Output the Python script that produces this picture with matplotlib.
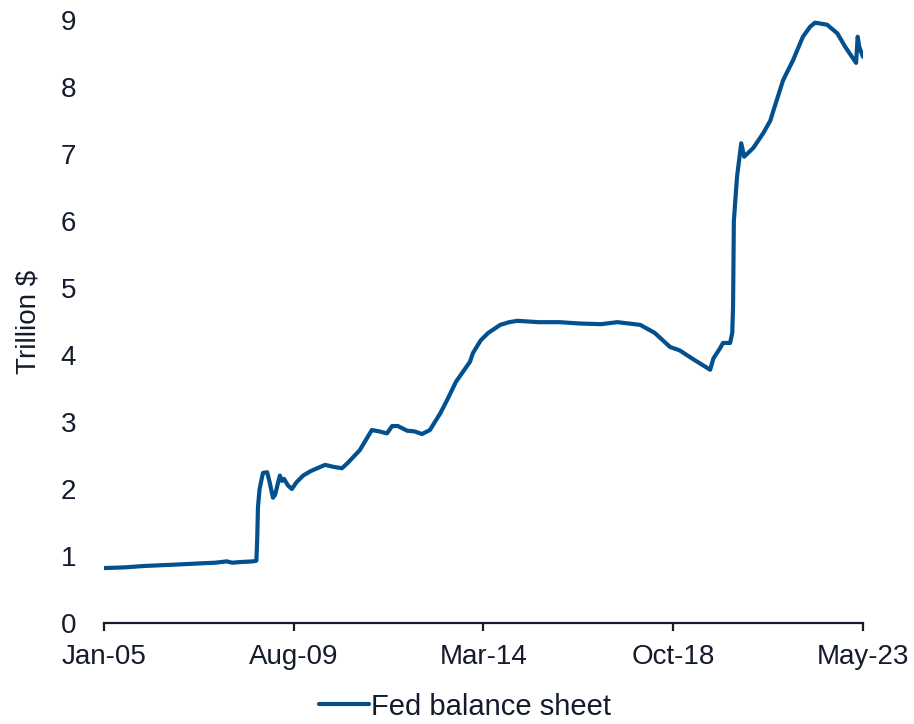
import matplotlib
matplotlib.use("Agg")
import matplotlib.pyplot as plt
import pandas as pd

plt.rcParams["font.family"] = ["Liberation Sans", "DejaVu Sans"]

# Fed balance sheet, total assets (trillion $)
dates = [
    "2005-01-05", "2005-07-01", "2005-12-10", "2006-04-20", "2006-09-01",
    "2007-01-03", "2007-04-27", "2007-09-12", "2007-12-19", "2008-02-06",
    "2008-04-20", "2008-08-08", "2008-09-06", "2008-09-13", "2008-09-20",
    "2008-10-04", "2008-11-03", "2008-12-10", "2009-01-01", "2009-01-30",
    "2009-02-17", "2009-04-01", "2009-04-20", "2009-05-08", "2009-06-13",
    "2009-07-16", "2009-08-25", "2009-10-23", "2010-01-01", "2010-05-05",
    "2010-07-20", "2010-10-01", "2010-11-21", "2011-03-07", "2011-06-21",
    "2011-08-25", "2011-11-02", "2011-12-17", "2012-02-06", "2012-04-27",
    "2012-07-01", "2012-09-05", "2012-11-14", "2013-02-14", "2013-04-16",
    "2013-07-02", "2013-11-03", "2013-11-29", "2014-02-06", "2014-04-13",
    "2014-07-28", "2014-10-15", "2014-12-25", "2015-07-01", "2016-01-01",
    "2016-07-01", "2017-01-01", "2017-05-26", "2017-12-13", "2018-04-20",
    "2018-09-02", "2018-11-25", "2019-04-01", "2019-08-22", "2019-09-20",
    "2019-11-17", "2019-12-13", "2020-02-14", "2020-03-04", "2020-03-11",
    "2020-03-18", "2020-04-15", "2020-05-22", "2020-06-17", "2020-09-05",
    "2020-12-02", "2021-02-03", "2021-02-21", "2021-05-26", "2021-08-22",
    "2021-11-17", "2022-01-20", "2022-03-04", "2022-06-18", "2022-09-17",
    "2022-11-25", "2023-03-01", "2023-03-15", "2023-03-29", "2023-05-01",
]
balance = [
    0.82, 0.83, 0.85, 0.86, 0.87,
    0.88, 0.89, 0.90, 0.92, 0.90,
    0.91, 0.92, 0.93, 1.24, 1.73,
    2.00, 2.24, 2.25, 2.10, 1.87,
    1.91, 2.20, 2.12, 2.15, 2.05,
    2.00, 2.10, 2.20, 2.27, 2.36,
    2.33, 2.31, 2.39, 2.58, 2.88,
    2.86, 2.83, 2.94, 2.94, 2.87,
    2.86, 2.82, 2.88, 3.13, 3.33,
    3.60, 3.90, 4.03, 4.22, 4.33,
    4.45, 4.49, 4.51, 4.49, 4.49,
    4.47, 4.46, 4.49, 4.45, 4.33,
    4.12, 4.07, 3.93, 3.78, 3.95,
    4.10, 4.18, 4.18, 4.33, 4.72,
    6.00, 6.66, 7.16, 6.96, 7.09,
    7.31, 7.50, 7.60, 8.10, 8.40,
    8.75, 8.90, 8.96, 8.93, 8.80,
    8.60, 8.36, 8.75, 8.60, 8.45,
]

tick_dates = ["2005-01-01", "2009-08-01", "2014-03-01", "2018-10-01", "2023-05-01"]
tick_labels = ["Jan-05", "Aug-09", "Mar-14", "Oct-18", "May-23"]
y_ticks = list(range(0, 10))

line_color = "#03508F"
text_color = "#141B2D"

x = pd.to_datetime(dates)
xt = pd.to_datetime(tick_dates)

fig = plt.figure(figsize=(9.14, 7.24), dpi=100)
ax = fig.add_axes([104 / 914, 101 / 724, 759 / 914, 603 / 724])

ax.plot(x, balance, color=line_color, lw=3.0, solid_joinstyle="round",
        solid_capstyle="round", label="Fed balance sheet")

ax.set_xlim(xt[0], xt[-1])
ax.set_ylim(0, 9)
ax.set_xticks(xt)
ax.set_xticklabels(tick_labels)
ax.set_yticks(y_ticks)

for side in ("top", "right", "left"):
    ax.spines[side].set_visible(False)
ax.spines["bottom"].set_color(text_color)
ax.spines["bottom"].set_linewidth(1.6)

ax.tick_params(axis="x", length=6, width=1.6, color=text_color,
               labelsize=20, labelcolor=text_color, pad=9)
ax.tick_params(axis="y", length=0, labelsize=20, labelcolor=text_color, pad=20)

ax.set_ylabel("Trillion $", fontsize=20, color=text_color, labelpad=14)

leg = fig.legend(loc="center", bbox_to_anchor=(0.509, 0.024), frameon=False,
                 fontsize=21, handlelength=1.7, handletextpad=0.1,
                 labelcolor=text_color)
for h in leg.get_lines():
    h.set_linewidth(3.0)

fig.savefig("out.png", dpi=100, facecolor="white")
